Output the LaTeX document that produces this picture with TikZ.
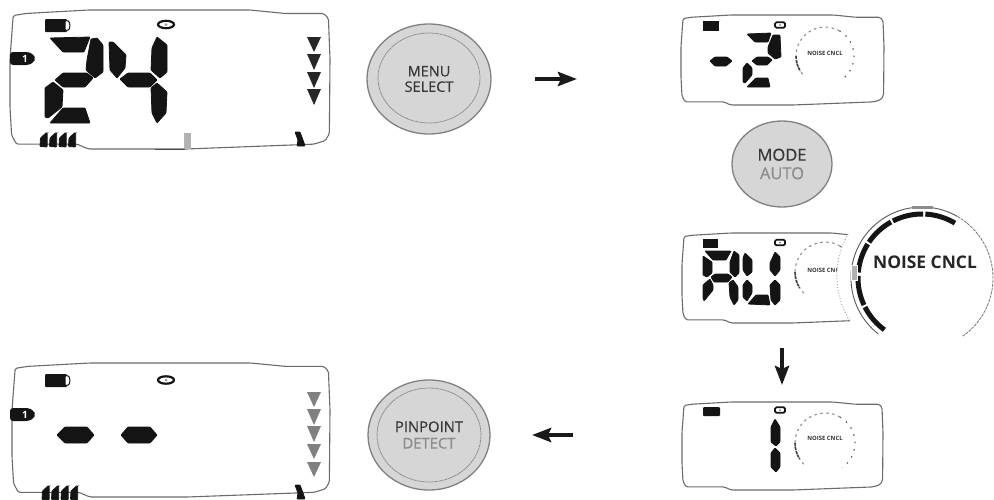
\documentclass[tikz,border=0pt]{standalone}
\usepackage{fontspec}
\setmainfont{Open Sans}
\newfontfamily\btnfont[FakeBold=0.5]{Open Sans}
\usetikzlibrary{arrows.meta,shapes.geometric}
\definecolor{lcdblack}{gray}{0.08}
\tikzset{
  seg/.style={fill=lcdblack,draw=lcdblack,line width=0.8pt,rounded corners=0.8pt},
  framebox/.style={draw=black!58,line width=1.1pt,rounded corners=1.6pt},
  btn/.style={ellipse,draw=black!50,fill=black!16,line width=1.3pt,inner sep=0pt,align=center,text=black!78},
  ring/.style={draw=black!45,line width=0.8pt,dash pattern=on 2pt off 0.6pt},
  flow/.style={draw=black!90,line width=4pt,-{Stealth[length=19pt,width=14pt,inset=3pt]}},
  dialtxt/.style={font=\fontsize{5.9}{6}\selectfont\bfseries,text=black!80,inner sep=0pt},
  dialdash/.style={draw=black!45,line width=1.1pt,dash pattern=on 2.5pt off 3.5pt},
  dialdot/.style={draw=black!60,line width=1.2pt,dash pattern=on 1.5pt off 6pt},
  dialdark/.style={draw=black!75,line width=1.6pt,dash pattern=on 3pt off 1pt},
  arrowtri/.style={fill=#1,draw=none},
  arrowtri/.default=black!85
}
\newcommand{\lcdframe}[4]{% x0 y0 width height
  \begin{scope}[shift={(#1,#2)},x=#3pt,y=-#4pt]
    \draw[framebox] (0.01,0.04) -- (0.05,0.025) -- (0.245,0) -- (0.75,0) -- (0.86,0.025) -- (0.98,0.025) -- (0.995,0.06) -- (1,0.35) -- (0.998,0.89) -- (0.985,0.94) -- (0.95,0.965) -- (0.55,1) -- (0.245,1) -- (0.21,0.965) -- (0.02,0.965) -- (0.005,0.9) -- (0,0.7) -- (0,0.35) -- cycle;
  \end{scope}}
\newcommand{\tri}[4][black!85]{% x ytop ybottom
  \fill[arrowtri=#1] (#2-7,#3) -- (#2+7,#3) -- (#2,#4) -- cycle;}
\newcommand{\barmarks}[2]{% x y
  \foreach \k in {0,1,2,3}{
    \fill[seg] ({#1+\k*9.5},#2+13.5) -- ({#1+\k*9.5+0.5},#2+5) -- ({#1+\k*9.5+6},#2) -- ({#1+\k*9.5+7.2},#2) -- ({#1+\k*9.5+7.2},#2+14) -- cycle;}}
\newcommand{\heelmark}[2]{% x y
  \fill[seg] (#1,#2) -- (#1+5,#2) -- (#1+8,#2+8) -- (#1+10,#2+14) -- (#1+2,#2+14) -- (#1+3,#2+8) -- cycle;}
\newcommand{\bigbattery}[2]{%
  \fill[lcdblack,rounded corners=1pt] (#1,#2) rectangle (#1+22,#2+13);
  \draw[lcdblack,line width=1pt,fill=white,rounded corners=1pt] (#1+20,#2+1.5) -- (#1+24,#2+2) -- (#1+25,#2+6.5) -- (#1+24,#2+11) -- (#1+20,#2+11.5) -- cycle;}
\newcommand{\bigicon}[2]{%
  \draw[lcdblack,line width=2.2pt,fill=white] (#1,#2) ellipse (8pt and 3.7pt);
  \fill[black!40] (#1,#2) ellipse (1.5pt and 1.5pt);}
\newcommand{\smallicon}[2]{%
  \draw[lcdblack,line width=1.7pt,fill=white,rounded corners=1.5pt] (#1-5,#2-2.8) rectangle (#1+5,#2+2.8);
  \fill[black!50] (#1,#2) circle (1pt);}
\newcommand{\tabone}[3]{% name x y
  \fill[lcdblack,rounded corners=3pt] (#2,#3) -- (#2+19,#3) -- (#2+24,#3+3) -- (#2+25,#3+6.5) -- (#2+24,#3+10) -- (#2+19,#3+13) -- (#2,#3+13) -- cycle;
  \node[text=white,inner sep=0pt,font=\fontsize{10}{10}\selectfont\bfseries] (#1) at (#2+15,#3+6.5) {1};}
\newcommand{\smalldial}[5]{% name x y r dy
  \draw[dialdash] ([shift={(60:#4pt)}]#2,#3) arc[start angle=60,end angle=225,radius=#4pt];
  \draw[dialdot] ([shift={(60:#4pt)}]#2,#3) arc[start angle=60,end angle=-55,radius=#4pt];
  \draw[dialdark] ([shift={(180:#4pt)}]#2,#3) arc[start angle=180,end angle=212,radius=#4pt];
  \node[dialtxt] (#1) at (#2,#3+#5) {NOISE CNCL};}
\begin{document}
\begin{tikzpicture}[x=1pt,y=-1pt]
\clip (0,0) rectangle (994,499);

% panel 1
\lcdframe{10}{10}{320}{139}
\draw[black!70,line width=1pt] (155,149) -- (185,149);
\bigbattery{45}{19}
\bigicon{166}{24.5}
\tabone{tab1}{10}{52}
\fill[seg] (50,38) -- (90,37) -- (84,52) -- (63,52) -- cycle;
\fill[seg] (91,39) -- (97,38) -- (103,45) -- (103,72) -- (95,78) -- (86,70) -- (87,60) -- cycle;
\fill[seg] (55,80) -- (63,73) -- (87,73) -- (93,78) -- (85,87) -- (63,87) -- cycle;
\fill[seg] (45,88) -- (53,82) -- (63,90) -- (62,107) -- (48,118) -- (45,117) -- cycle;
\fill[seg] (50,123) -- (63,108) -- (85,108) -- (90,123) -- cycle;
\fill[seg] (109,42) -- (113,42) -- (126,55) -- (125,68) -- (117,78) -- (110,70) -- cycle;
\fill[seg] (120,79) -- (128,73) -- (150,73) -- (157,80) -- (150,87) -- (128,87) -- cycle;
\fill[seg] (152,48) -- (157,37) -- (167,45) -- (167,72) -- (160,78) -- (151,70) -- cycle;
\fill[seg] (151,88) -- (157,83) -- (167,92) -- (166,113) -- (157,123) -- (152,113) -- cycle;
\tri{314}{37}{52}
\tri{314}{54}{70}
\tri{314}{72}{88}
\tri{314}{89}{105}
\barmarks{40}{133}
\heelmark{295}{132}
\fill[black!30] (184,133) rectangle (191,149);

% panel 2
\lcdframe{681}{15}{203}{90}
\fill[lcdblack] (703,21) rectangle (719,31);
\smallicon{780}{25}
\fill[seg] (710,61) -- (715,57) -- (727,57) -- (732,61) -- (726,66) -- (715,66) -- cycle;
\fill[seg] (747,34) -- (771,33) -- (768,42) -- (755,42) -- cycle;
\fill[seg] (768,47) -- (773,35) -- (780,35) -- (781,57) -- (775,59) -- (768,53) -- cycle;
\fill[seg] (752,61) -- (757,57) -- (768,57) -- (772,60) -- (767,65) -- (757,65) -- cycle;
\fill[seg] (743,68) -- (747,63) -- (752,68) -- (752,75) -- (745,83) -- (743,82) -- cycle;
\fill[seg] (747,87) -- (756,78) -- (768,78) -- (770,87) -- cycle;
\smalldial{dial2}{825}{56}{29}{-3}

% panel 3
\lcdframe{682}{233}{200}{90}
\fill[lcdblack] (703,239) rectangle (718,248);
\smallicon{780}{242.5}
\fill[seg] (705,251) -- (731,251) -- (726,260) -- (713,260) -- cycle;
\fill[seg] (703,256) -- (712,262) -- (712,273) -- (707,277) -- (703,275) -- cycle;
\fill[seg] (730,262) -- (734,251) -- (739,255) -- (739,273) -- (735,277) -- (730,272) -- cycle;
\fill[seg] (711,277) -- (715,274) -- (728,274) -- (732,277) -- (728,282) -- (714,282) -- cycle;
\fill[seg] (703,285) -- (710,279) -- (713,285) -- (713,290) -- (704,301) -- (703,298) -- cycle;
\fill[seg] (729,283) -- (733,280) -- (738,287) -- (738,300) -- (734,305) -- (730,297) -- cycle;
\fill[seg] (743,258) -- (745,253) -- (752,260) -- (752,272) -- (747,276) -- (743,270) -- cycle;
\fill[seg] (743,285) -- (747,280) -- (752,285) -- (752,293) -- (747,301) -- (743,297) -- cycle;
\fill[seg] (748,304) -- (756,295) -- (768,295) -- (770,305) -- cycle;
\fill[seg] (770,263) -- (775,252) -- (780,257) -- (780,270) -- (775,276) -- (770,270) -- cycle;
\fill[seg] (770,285) -- (775,280) -- (780,285) -- (780,300) -- (775,305) -- (771,300) -- cycle;
\smalldial{dial3}{825}{272}{30}{-2}

% enlarged dial over panel 3
\node[circle,fill=white,minimum size=168pt,inner sep=0pt] (halo) at (921,276) {};
\draw[draw=black!40,line width=0.9pt,dotted] (halo.150) arc[start angle=150,end angle=213,radius=84pt];
\draw[draw=black!65,line width=0.9pt] ([shift={(232:71pt)}]922,278) arc[start angle=232,end angle=60,radius=71pt];
\draw[draw=black!55,line width=0.8pt,dash pattern=on 3pt off 1pt] ([shift={(60:71pt)}]922,278) arc[start angle=60,end angle=-55,radius=71pt];
\foreach \a/\b in {59/87,89/117,119/146,148/175,178/205,207/234}{
  \draw[lcdblack,line width=5pt] ([shift={(\a:64pt)}]922,278) arc[start angle=\a,end angle=\b,radius=64pt];}
\fill[black!30,draw=white,line width=0.5pt] (851,265) rectangle (857,280);
\fill[black!45] (912,206) rectangle (933,209);
\node[inner sep=0pt,text=black!85,font=\fontsize{17.4}{18}\selectfont\bfseries] (dialbig) at (925,262) {NOISE CNCL};

% panel 4
\lcdframe{682}{402}{201}{88}
\fill[lcdblack,rounded corners=1pt] (703,407) rectangle (720,416);
\smallicon{780}{410}
\fill[seg] (771,427) -- (775,419) -- (780,427) -- (780,442) -- (776,446) -- (771,442) -- cycle;
\fill[seg] (771,453) -- (775,448) -- (780,453) -- (780,467) -- (776,472) -- (771,467) -- cycle;
\smalldial{dial4}{825}{443}{30}{-5}

% panel 5
\lcdframe{12}{363}{318}{134}
\bigbattery{45}{374}
\bigicon{166}{380}
\tabone{tab5}{10}{408}
\fill[seg] (57,435) -- (65,427) -- (87,427) -- (94,435) -- (87,443) -- (65,443) -- cycle;
\fill[seg] (121,435) -- (128,427) -- (150,427) -- (157,435) -- (150,443) -- (128,443) -- cycle;
\tri[black!50]{314}{392}{407}
\tri[black!50]{314}{409}{425}
\tri[black!50]{314}{426}{442}
\tri[black!50]{314}{444}{459}
\tri[black!50]{314}{462}{477}
\barmarks{42}{486}
\heelmark{295}{485}

% buttons
\node[btn,minimum width=124pt,minimum height=110pt,font=\btnfont\fontsize{14.5}{15.5}\selectfont] (menu) at (429,79) {MENU\\SELECT};
\draw[ring] (429,78) ellipse (51pt and 45pt);
\node[btn,minimum width=100pt,minimum height=86pt,font=\btnfont\fontsize{16.5}{18.5}\selectfont] (mode) at (782,164) {MODE\\{\color{black!45}AUTO}};
\node[btn,minimum width=122pt,minimum height=110pt,font=\btnfont\fontsize{14.8}{16.5}\selectfont] (pin) at (429,435) {PINPOINT\\{\color{black!45}DETECT}};
\draw[ring] (429,435) ellipse (52pt and 47pt);

% arrows
\coordinate (a1s) at (535,79);
\coordinate (a1e) at (577,79);
\coordinate (a2s) at (782,348);
\coordinate (a2e) at (782,385);
\coordinate (a3s) at (573,435);
\coordinate (a3e) at (532,435);
\draw[flow] (a1s) -- (a1e);
\draw[flow] (a2s) -- (a2e);
\draw[flow] (a3s) -- (a3e);
\end{tikzpicture}
\end{document}
